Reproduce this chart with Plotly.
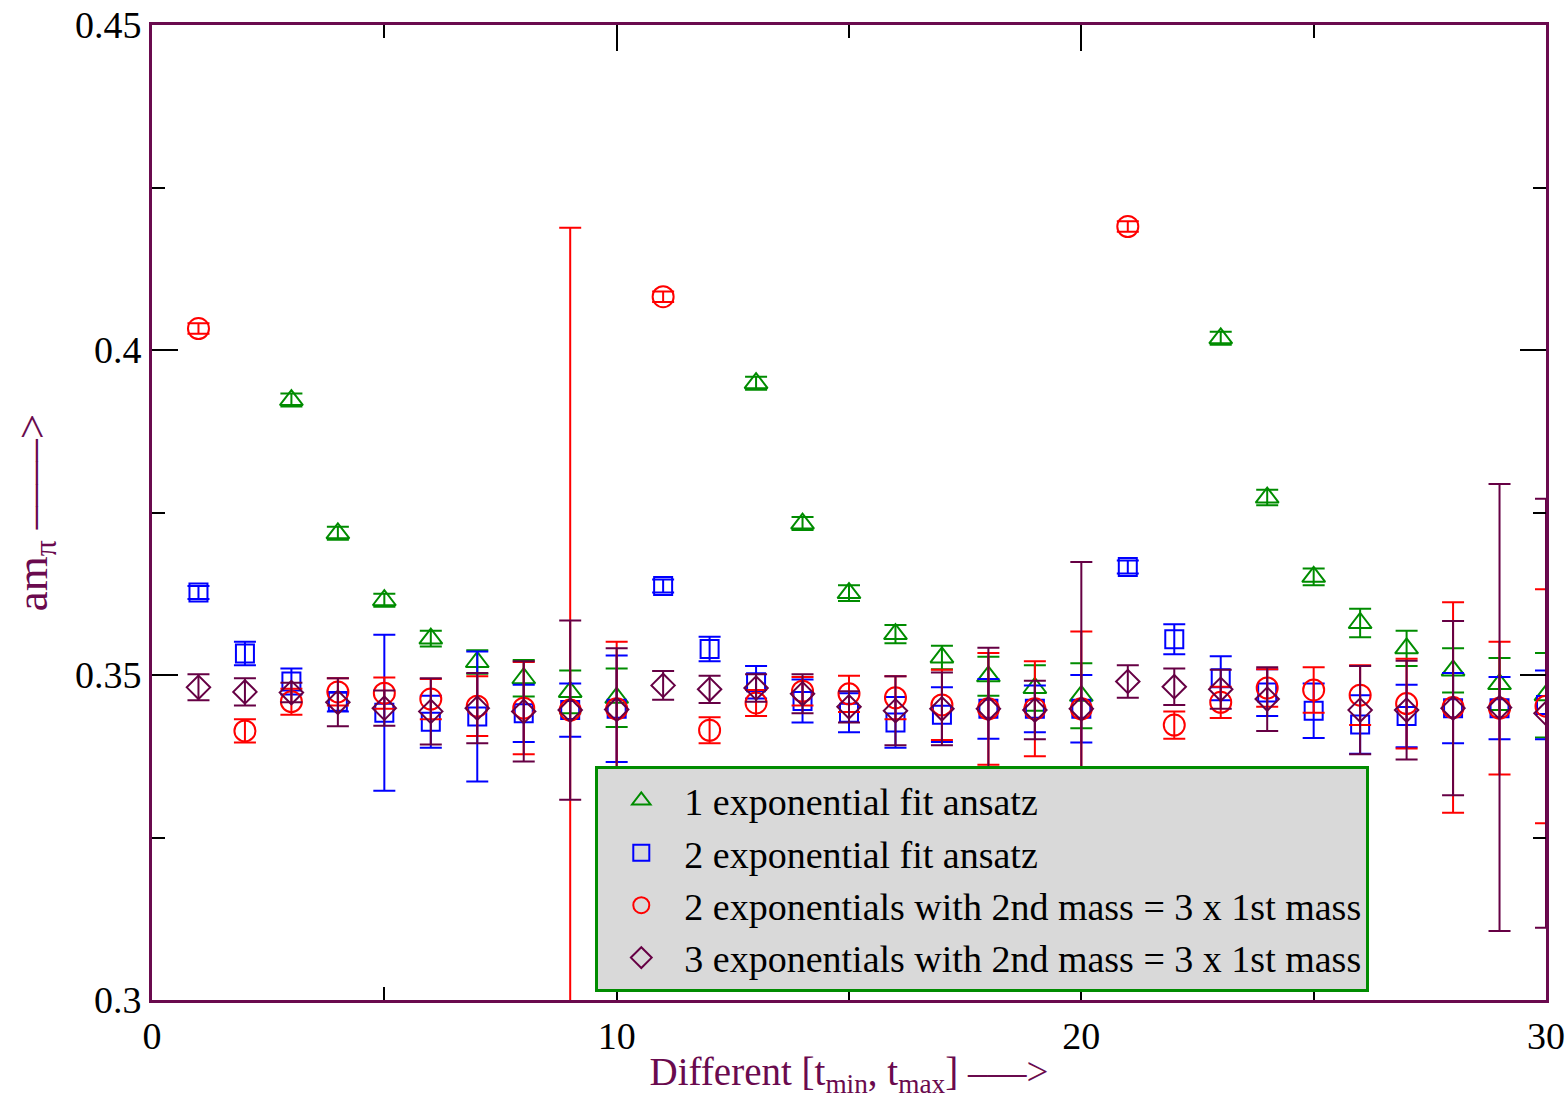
import plotly.graph_objects as go

# Fit-window index (each point is one [t_min, t_max] choice)
fit_index = list(range(1, 31))

# 1 exponential fit ansatz
one_exp = [None, None, 0.3923, 0.3718, 0.3615, 0.3556, 0.3520, 0.3495, 0.3474, 0.3465,
           None, None, 0.3949, 0.3733, 0.3626, 0.3563, 0.3527, 0.3498, 0.3480, 0.3468,
           None, None, 0.4018, 0.3773, 0.3651, 0.3580, 0.3541, 0.3507, 0.3486, 0.3469]
one_exp_err = [None, None, 0.0010, 0.0010, 0.0010, 0.0012, 0.0018, 0.0028, 0.0033, 0.0045,
               None, None, 0.0010, 0.0010, 0.0012, 0.0014, 0.0018, 0.0030, 0.0035, 0.0050,
               None, None, 0.0010, 0.0012, 0.0013, 0.0022, 0.0027, 0.0034, 0.0040, 0.0065]

# 2 exponential fit ansatz
two_exp = [0.3627, 0.3533, 0.3490, 0.3459, 0.3442, 0.3428, 0.3436, 0.3441, 0.3446, 0.3448,
           0.3637, 0.3540, 0.3489, 0.3460, 0.3442, 0.3427, 0.3439, 0.3448, 0.3448, 0.3448,
           0.3666, 0.3555, 0.3495, 0.3473, 0.3445, 0.3424, 0.3437, 0.3449, 0.3449, 0.3454]
two_exp_err = [0.0010, 0.0018, 0.0020, 0.0015, 0.0120, 0.0040, 0.0100, 0.0044, 0.0041, 0.0082,
               0.0010, 0.0019, 0.0025, 0.0033, 0.0030, 0.0039, 0.0042, 0.0046, 0.0036, 0.0052,
               0.0010, 0.0023, 0.0034, 0.0036, 0.0042, 0.0045, 0.0048, 0.0054, 0.0048, 0.0053]

# 2 exponentials with 2nd mass = 3 x 1st mass
two_exp_fixed = [0.4033, 0.3414, 0.3459, 0.3474, 0.3472, 0.3463, 0.3452, 0.3449, 0.3446, 0.3448,
                 0.4082, 0.3415, 0.3457, 0.3475, 0.3471, 0.3465, 0.3454, 0.3448, 0.3448, 0.3448,
                 0.4190, 0.3423, 0.3458, 0.3480, 0.3477, 0.3469, 0.3456, 0.3450, 0.3449, 0.3452]
two_exp_fixed_err = [0.0008, 0.0018, 0.0020, 0.0021, 0.0024, 0.0031, 0.0046, 0.0071, 0.0742, 0.0103,
                     0.0008, 0.0020, 0.0020, 0.0022, 0.0028, 0.0033, 0.0054, 0.0086, 0.0073, 0.0119,
                     0.0008, 0.0021, 0.0024, 0.0029, 0.0035, 0.0046, 0.0069, 0.0162, 0.0102, 0.0180]

# 3 exponentials with 2nd mass = 3 x 1st mass
three_exp_fixed = [0.3481, 0.3474, 0.3473, 0.3458, 0.3449, 0.3444, 0.3449, 0.3444, 0.3446, 0.3447,
                   0.3484, 0.3478, 0.3480, 0.3471, 0.3451, 0.3445, 0.3448, 0.3448, 0.3446, 0.3448,
                   0.3490, 0.3482, 0.3478, 0.3463, None, 0.3446, 0.3446, 0.3449, 0.3450, 0.3441]
three_exp_fixed_err = [0.0020, 0.0021, 0.0015, 0.0037, 0.0027, 0.0051, 0.0054, 0.0077, 0.0138, 0.0094,
                       0.0022, 0.0021, 0.0021, 0.0030, 0.0024, 0.0053, 0.0056, 0.0094, 0.0045, 0.0226,
                       0.0025, 0.0028, 0.0030, 0.0049, None, 0.0068, 0.0076, 0.0134, 0.0344, 0.0330]

series_names = [
    "1 exponential fit ansatz",
    "2 exponential fit ansatz",
    "2 exponentials with 2nd mass = 3 x 1st mass",
    "3 exponentials with 2nd mass = 3 x 1st mass",
]

FRAME = "#6a0a4e"
SERIF = "Liberation Serif"

styles = [
    (one_exp, one_exp_err, "triangle-up-open", 20, "#008c00"),
    (two_exp, two_exp_err, "square-open", 18, "#0000ff"),
    (two_exp_fixed, two_exp_fixed_err, "circle-open", 21, "#ff0000"),
    (three_exp_fixed, three_exp_fixed_err, "diamond-open", 18, "#660044"),
]

fig = go.Figure()
for name, (vals, errs, symbol, size, color) in zip(series_names, styles):
    fig.add_trace(go.Scatter(
        x=fit_index, y=vals, name=name, mode="markers",
        marker=dict(symbol=symbol, size=size, color=color,
                    line=dict(color=color, width=2)),
        error_y=dict(type="data", array=errs, visible=True,
                     color=color, thickness=2, width=11),
        cliponaxis=True,
    ))

axis_common = dict(
    automargin=False,
    showgrid=False, zeroline=False,
    showline=True, linecolor=FRAME, linewidth=3, mirror="ticks",
    ticks="inside", ticklen=26, tickwidth=2, tickcolor="black",
    tickfont=dict(family=SERIF, size=38, color="black"),
)

fig.update_xaxes(
    range=[0, 30], tickmode="linear", tick0=0, dtick=10,
    minor=dict(ticks="inside", ticklen=13, tickwidth=2, tickcolor="black",
               tickmode="linear", tick0=0, dtick=5),
    title=dict(text="Different [t<sub>min</sub>, t<sub>max</sub>] –––>",
               font=dict(family=SERIF, size=39, color=FRAME), standoff=4),
    **axis_common,
)
fig.update_yaxes(
    range=[0.3, 0.45], tickmode="linear", tick0=0.3, dtick=0.05, tickformat=".2~f",
    minor=dict(ticks="inside", ticklen=13, tickwidth=2, tickcolor="black",
               tickmode="linear", tick0=0.3, dtick=0.025),
    title=dict(text="am<sub>π</sub> ––––>",
               font=dict(family=SERIF, size=45, color=FRAME), standoff=14),
    **axis_common,
)

fig.update_layout(
    width=1568, height=1099,
    margin=dict(l=152, r=22, t=25, b=99),
    paper_bgcolor="white", plot_bgcolor="white",
    showlegend=True,
    legend=dict(
        x=0.318, y=0.008, xanchor="left", yanchor="bottom",
        bgcolor="#d9d9d9", bordercolor="#008c00", borderwidth=3,
        font=dict(family=SERIF, size=38, color="black"),
        itemwidth=76, tracegroupgap=0,
    ),
)

fig.write_html("out.html")
